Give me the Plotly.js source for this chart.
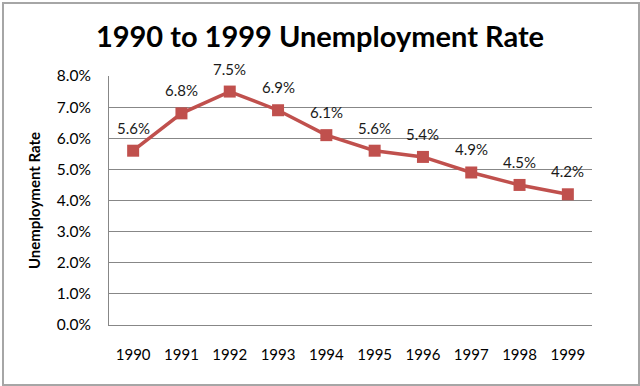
<!DOCTYPE html>
<html>
<head>
<meta charset="utf-8">
<script src="https://cdn.plot.ly/plotly-3.0.1.min.js"></script>
<style>
html,body{margin:0;padding:0;background:#fff;}
#wrap{position:relative;width:640px;height:386px;}
#chart{width:640px;height:386px;}
#frame{position:absolute;left:2px;top:2px;width:634px;height:380px;border:2px solid #a6a6a6;pointer-events:none;}
</style>
</head>
<body>
<div id="wrap"><div id="chart"></div><div id="frame"></div></div>
<script>
const years = [1990, 1991, 1992, 1993, 1994, 1995, 1996, 1997, 1998, 1999];
const rates = [5.6, 6.8, 7.5, 6.9, 6.1, 5.6, 5.4, 4.9, 4.5, 4.2];
const yTickVals = [0,1,2,3,4,5,6,7,8];
const yTickText = yTickVals.map(v => v.toFixed(1) + '%');
const labels = rates.map(v => v.toFixed(1) + '%');
const red = '#C0504D';
const font = 'Lato, "Open Sans", sans-serif';

const trace = {
  x: years, y: rates, type: 'scatter', mode: 'lines+markers',
  line: {color: red, width: 3.5},
  marker: {symbol: 'square', size: 12, color: red},
  hoverinfo: 'none'
};

const annotations = years.map((yr, i) => ({
  x: yr, y: rates[i], xref: 'x', yref: 'y', text: labels[i],
  showarrow: false, yshift: 23,
  font: {family: font, size: 15, color: '#1a1a1a'}
}));

const layout = {
  width: 640, height: 386,
  margin: {l: 109, r: 48, t: 76, b: 61},
  paper_bgcolor: '#fff', plot_bgcolor: '#fff',
  showlegend: false,
  title: {text: '<b>1990 to 1999 Unemployment Rate</b>', x: 0.5, xanchor: 'center', y: 0.905, yanchor: 'middle',
          font: {family: font, size: 29, color: '#000'}},
  xaxis: {type: 'linear', range: [1989.5, 1999.5], tickvals: years, ticktext: years.map(String),
          showgrid: false, zeroline: false, showline: true, linecolor: '#878787', linewidth: 1,
          ticks: '', tickfont: {family: font, size: 15, color: '#000'}, ticklabelstandoff: 16,
          fixedrange: true},
  yaxis: {range: [0, 8], tickvals: yTickVals, ticktext: yTickText,
          showgrid: true, gridcolor: '#878787', gridwidth: 1, zeroline: false,
          showline: true, linecolor: '#878787', linewidth: 1, ticks: '',
          tickfont: {family: font, size: 15.5, color: '#000'}, ticklabelstandoff: 14,
          title: {text: '<b>Unemployment Rate</b>', standoff: 12, font: {family: font, size: 15, color: '#000'}},
          fixedrange: true},
  annotations: annotations
};

Plotly.newPlot('chart', [trace], layout, {staticPlot: true, displayModeBar: false});
</script>
</body>
</html>
